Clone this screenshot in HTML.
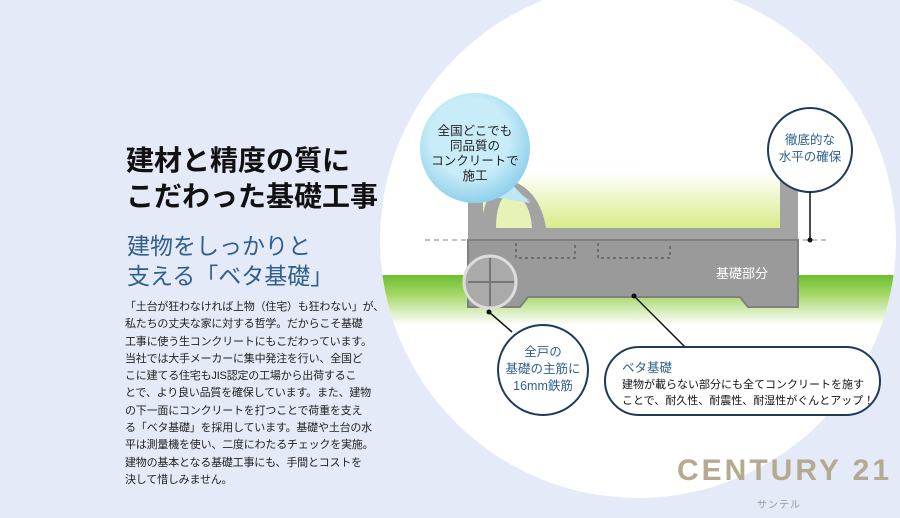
<!DOCTYPE html>
<html><head><meta charset="utf-8"><style>
body{margin:0;width:900px;height:518px;overflow:hidden;background:#e5eaf8;font-family:"Liberation Sans","Noto Sans CJK JP",sans-serif;position:relative}
.a{position:absolute;white-space:nowrap}
</style></head><body>
<svg width="900" height="518" style="position:absolute;left:0;top:0">
<defs>
<clipPath id="c"><circle cx="638" cy="240" r="258"/></clipPath>
<linearGradient id="g" x1="0" y1="0" x2="0" y2="1"><stop offset="0" stop-color="#6cbf2e"/><stop offset="0.4" stop-color="#a8d86a"/><stop offset="1" stop-color="#fff"/></linearGradient>
<linearGradient id="gi" x1="0" y1="0" x2="0" y2="1"><stop offset="0" stop-color="#fff"/><stop offset="1" stop-color="#d8ec88"/></linearGradient>
<radialGradient id="bb" cx="0.45" cy="0.4" r="0.6"><stop offset="0.6" stop-color="#c8ecf8"/><stop offset="1" stop-color="#8fd0ec"/></radialGradient>
</defs>
<circle cx="638" cy="240" r="258" fill="#fff"/>
<g clip-path="url(#c)">
<rect x="370" y="275" width="540" height="50" fill="url(#g)"/>
</g>
<rect x="468" y="172" width="330" height="70" fill="#a3a3a3"/>
<rect x="483" y="172" width="297" height="56" fill="url(#gi)"/>
<path d="M482 228 Q482 190 510 180 Q540 190 546 228 Z" fill="#a3a3a3"/>
<path d="M496 228 Q496 198 510 192 Q530 198 532 228 Z" fill="#e7f2b8"/>
<line x1="425" y1="240" x2="830" y2="240" stroke="#b8c6cc" stroke-width="2" stroke-dasharray="5,4"/>
<path d="M468 240 H798 V307 H748 L740 297 H528 L520 307 H468 Z" fill="#9a9a9a" stroke="#808080" stroke-width="2"/>
<path d="M516 243 V258 H575 V243 M598 243 V258 H670 V243" fill="none" stroke="#6e6e6e" stroke-width="2" stroke-dasharray="3,3"/>
<circle cx="490" cy="282" r="26" fill="#aaa" stroke="#ddd" stroke-width="3"/>
<path d="M468 282 H514 M490 258 V306" stroke="#777" stroke-width="2"/>
<path d="M500 180 L532 202 L512 192 Z" fill="#bfe6f5"/>
<path d="M498 170 L530 203 L488 196 Z" fill="#bfe6f5"/>
<circle cx="475" cy="148" r="55" fill="url(#bb)"/>
<circle cx="810" cy="150" r="42" fill="#fff" stroke="#1d3a5c" stroke-width="2"/>
<line x1="810" y1="192" x2="810" y2="240" stroke="#111" stroke-width="1.5"/><circle cx="810" cy="240" r="2.5" fill="#111"/>
<line x1="489" y1="312" x2="512" y2="332" stroke="#111" stroke-width="1.5"/><circle cx="489" cy="312" r="2.5" fill="#111"/>
<circle cx="543" cy="370" r="45" fill="#fff" stroke="#1d3a5c" stroke-width="2"/>
<line x1="634" y1="296" x2="685" y2="347" stroke="#111" stroke-width="1.5"/><circle cx="634" cy="296" r="2.5" fill="#111"/>
<rect x="605" y="347" width="275" height="68" rx="34" fill="#fff" stroke="#1d3a5c" stroke-width="2"/>
</svg>
<div class="a" style="left:126px;top:143px;font-size:28px;font-weight:bold;line-height:36px;color:#111">建材と精度の質に<br>こだわった基礎工事</div>
<div class="a" style="left:127px;top:231px;font-size:23px;line-height:30px;color:#2f5f8c">建物をしっかりと<br>支える「ベタ基礎」</div>
<div class="a" style="left:125px;top:299px;font-size:11px;line-height:17.3px;color:#222;letter-spacing:-0.2px">「土台が狂わなければ上物（住宅）も狂わない」が、<br>私たちの丈夫な家に対する哲学。だからこそ基礎<br>工事に使う生コンクリートにもこだわっています。<br>当社では大手メーカーに集中発注を行い、全国ど<br>こに建てる住宅もJIS認定の工場から出荷するこ<br>とで、より良い品質を確保しています。また、建物<br>の下一面にコンクリートを打つことで荷重を支え<br>る「ベタ基礎」を採用しています。基礎や土台の水<br>平は測量機を使い、二度にわたるチェックを実施。<br>建物の基本となる基礎工事にも、手間とコストを<br>決して惜しみません。</div>
<div class="a" style="left:420px;top:124px;width:110px;text-align:center;font-size:12.5px;line-height:15px;color:#222">全国どこでも<br>同品質の<br>コンクリートで<br>施工</div>
<div class="a" style="left:768px;top:132px;width:84px;text-align:center;font-size:12.5px;line-height:17px;color:#2f5f8c">徹底的な<br>水平の確保</div>
<div class="a" style="left:716px;top:263px;font-size:13px;color:#fff">基礎部分</div>
<div class="a" style="left:500px;top:344px;width:86px;text-align:center;font-size:12.5px;line-height:17px;color:#2f5f8c">全戸の<br>基礎の主筋に<br>16mm鉄筋</div>
<div class="a" style="left:622px;top:357px;font-size:12.5px;color:#2f5f8c">ベタ基礎</div>
<div class="a" style="left:622px;top:377px;font-size:11px;line-height:16px;color:#111">建物が載らない部分にも全てコンクリートを施す<br>ことで、耐久性、耐震性、耐湿性がぐんとアップ！</div>
<div class="a" style="left:677px;top:454px;font-size:30px;font-weight:bold;letter-spacing:3px;color:#b3aa90">CENTURY 21</div>
<div class="a" style="left:757px;top:496px;font-size:10px;letter-spacing:1px;color:#999">サンテル</div>
</body></html>
